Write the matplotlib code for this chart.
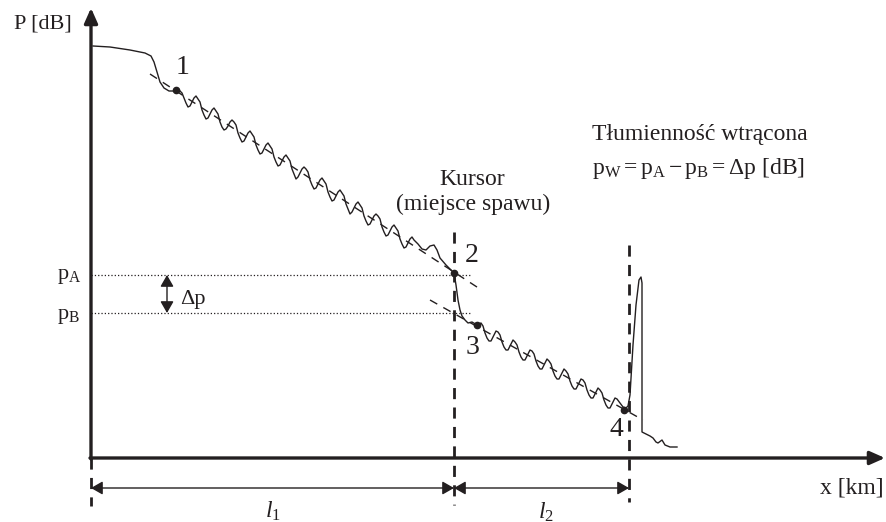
import matplotlib
matplotlib.use('Agg')
import matplotlib.pyplot as plt

plt.rcParams['font.family'] = ['Liberation Serif', 'DejaVu Serif']
plt.rcParams['mathtext.fontset'] = 'custom'
plt.rcParams['mathtext.rm'] = 'Liberation Serif'
plt.rcParams['mathtext.it'] = 'Liberation Serif:italic'

INK = '#231f20'

# OTDR trace (drawing coordinates, y grows downwards)
trace_x = [93, 110, 130, 145, 151, 154, 157, 160, 164, 169, 173, 176,
           178, 182, 184, 186, 188, 190, 192, 194, 196,
           198, 200, 202, 204, 206, 208, 210, 212, 214,
           216, 218, 220, 222, 224, 226, 228, 230, 232,
           234, 236, 238, 240, 242, 244, 246, 248, 250,
           252, 254, 256, 258, 260, 262, 264, 266, 268,
           270, 272, 274, 276, 278, 280, 282, 284, 286,
           288, 290, 292, 294, 296, 298, 300, 302, 304,
           306, 308, 310, 312, 314, 316, 318, 320, 322,
           324, 326, 328, 330, 332, 334, 336, 338, 340,
           342, 344, 346, 348, 350, 352, 354, 356, 358,
           360, 362, 364, 366, 368, 370, 372, 374, 376,
           378, 380, 382, 384, 386, 388, 390, 392, 394,
           396, 398, 400, 402, 404, 406, 408, 410, 412,
           414, 418, 422, 426, 430, 434, 437, 440, 446, 454,
           456, 458, 460, 462, 465, 468, 472, 477,
           481, 483, 485, 487, 489, 491, 493, 495, 496,
           498, 500, 502, 504, 506, 508, 510, 512, 513,
           515, 517, 519, 521, 523, 525, 527, 529, 530,
           532, 534, 536, 538, 540, 542, 544, 546, 547,
           549, 551, 553, 555, 557, 559, 561, 563, 564,
           566, 568, 570, 572, 574, 576, 578, 580, 581,
           583, 585, 587, 589, 591, 593, 595, 597, 598,
           600, 602, 604, 606, 608, 610, 612, 614, 615,
           617, 620, 623, 626, 628, 630, 633, 636, 639, 641, 642,
           642, 642, 642, 646, 650, 653, 656, 658, 662, 665, 670, 677]
trace_y = [46, 47, 50, 53, 56, 62, 72, 82, 88, 91, 91, 90,
           89, 93, 98, 103, 107, 106, 102, 98, 96,
           99, 102, 110, 115, 119, 118, 114, 110, 108,
           111, 114, 122, 127, 130, 129, 126, 122, 120,
           122, 125, 133, 138, 142, 141, 137, 133, 131,
           134, 137, 145, 150, 154, 153, 149, 145, 143,
           146, 149, 157, 162, 166, 165, 161, 157, 155,
           158, 161, 169, 174, 179, 177, 173, 169, 167,
           169, 172, 180, 185, 189, 188, 184, 180, 178,
           181, 184, 192, 197, 201, 200, 196, 192, 190,
           193, 196, 204, 209, 214, 212, 208, 204, 202,
           205, 208, 216, 221, 225, 224, 220, 216, 214,
           216, 219, 227, 232, 236, 235, 231, 227, 225,
           228, 231, 239, 244, 248, 247, 243, 239, 237,
           240, 244, 249, 250, 246, 245, 250, 258, 265, 273,
           285, 300, 310, 316, 320, 323, 322, 325,
           323, 326, 333, 338, 341, 341, 337, 333, 331,
           332, 335, 342, 347, 350, 350, 346, 342, 340,
           342, 345, 352, 357, 360, 360, 356, 352, 350,
           351, 354, 361, 366, 369, 369, 365, 361, 359,
           361, 364, 371, 376, 379, 379, 375, 371, 369,
           371, 374, 381, 386, 389, 389, 385, 381, 379,
           380, 383, 390, 395, 398, 398, 394, 390, 388,
           390, 393, 400, 405, 408, 408, 404, 400, 398,
           399, 403, 407, 408, 406, 395, 345, 305, 280, 277, 283,
           350, 400, 432, 434, 436, 438, 442, 443, 440, 445, 447, 447]

# fitted slopes (dashed)
fit1_x = [150, 480]
fit1_y = [74, 289]
fit2_x = [430, 643]
fit2_y = [300, 420]

# marked points 1..4
pts_x = [176, 454, 477, 624]
pts_y = [90, 273, 325, 410]
pts_lbl = ['1', '2', '3', '4']
lbl_x = [183, 472, 473, 616]
lbl_y = [68, 255, 347, 430]

# levels and positions
x0, x_cur, x_end = 91, 454, 629
y_axis = 458
p_A, p_B = 275, 313
y_dim = 488

fig = plt.figure(figsize=(8.86, 5.22), dpi=100)
ax = fig.add_axes([0, 0, 1, 1])
ax.set_xlim(0, 886)
ax.set_ylim(522, 0)
ax.axis('off')

# axes with arrow heads
ax.annotate('', xy=(x0, 8), xytext=(x0, y_axis + 1),
            arrowprops=dict(arrowstyle='-|>,head_length=9,head_width=4', mutation_scale=1,
                            lw=2.4, color=INK, shrinkA=0, shrinkB=0))
ax.annotate('', xy=(885, y_axis), xytext=(x0 - 1, y_axis),
            arrowprops=dict(arrowstyle='-|>,head_length=9,head_width=4', mutation_scale=1,
                            lw=2.4, color=INK, shrinkA=0, shrinkB=0))

# trace and fits
ax.plot(trace_x, trace_y, color=INK, lw=1.0, solid_joinstyle='round')
ax.plot(fit1_x, fit1_y, color=INK, lw=1.0, dashes=(6, 5))
ax.plot(fit2_x, fit2_y, color=INK, lw=1.0, dashes=(6, 5))
ax.plot(pts_x, pts_y, 'o', color=INK, ms=4.5)
for t, lx, ly in zip(pts_lbl, lbl_x, lbl_y):
    ax.text(lx, ly, t, fontsize=20, color=INK, ha='center', va='center')

# level lines pA / pB
ax.plot([x0, 470], [p_A, p_A], color=INK, lw=0.9, ls=':')
ax.plot([x0, 470], [p_B, p_B], color=INK, lw=0.9, ls=':')
ax.annotate('', xy=(167, p_A), xytext=(167, p_B),
            arrowprops=dict(arrowstyle='<|-|>,head_length=7,head_width=4', mutation_scale=1,
                            lw=1.0, color=INK, shrinkA=0, shrinkB=0))
ax.text(57, p_A + 4, r'$\mathrm{p_A}$', fontsize=16, color=INK, ha='left', va='baseline')
ax.text(57, p_B + 6, r'$\mathrm{p_B}$', fontsize=16, color=INK, ha='left', va='baseline')
ax.text(180, 304, 'Δp', fontsize=16, color=INK, ha='left', va='baseline')

# cursor lines
ax.plot([x0, x0], [y_axis, 506], color=INK, lw=2, dashes=(4, 3))
ax.plot([x_cur, x_cur], [232, 505], color=INK, lw=2, dashes=(4, 3))
ax.plot([x_end, x_end], [245, 502], color=INK, lw=2, dashes=(4, 3))

# distance arrows
for a, b in [(x0, x_cur), (x_cur, x_end)]:
    ax.annotate('', xy=(b, y_dim), xytext=(a, y_dim),
                arrowprops=dict(arrowstyle='<|-|>,head_length=7,head_width=4', mutation_scale=1,
                                lw=1.0, color=INK, shrinkA=0, shrinkB=0))
ax.text(273, 511, r'$l_1$', fontsize=17, color=INK, ha='center', va='center')
ax.text(546, 512, r'$l_2$', fontsize=17, color=INK, ha='center', va='center')

# labels
ax.text(72, 24, 'P [dB]', fontsize=16, color=INK, ha='right', va='center')
ax.text(884, 488, 'x [km]', fontsize=17, color=INK, ha='right', va='center')
ax.text(472, 185, 'Kursor', fontsize=17, color=INK, ha='center', va='baseline')
ax.text(473, 210, '(miejsce spawu)', fontsize=17, color=INK, ha='center', va='baseline')
ax.text(592, 140, 'Tłumienność wtrącona', fontsize=17, color=INK, ha='left', va='baseline')
ax.text(592, 174, r'$\mathrm{p_W = p_A - p_B = \Delta p\ [dB]}$', fontsize=17, color=INK,
        ha='left', va='baseline')

fig.savefig('out.png', dpi=100)
